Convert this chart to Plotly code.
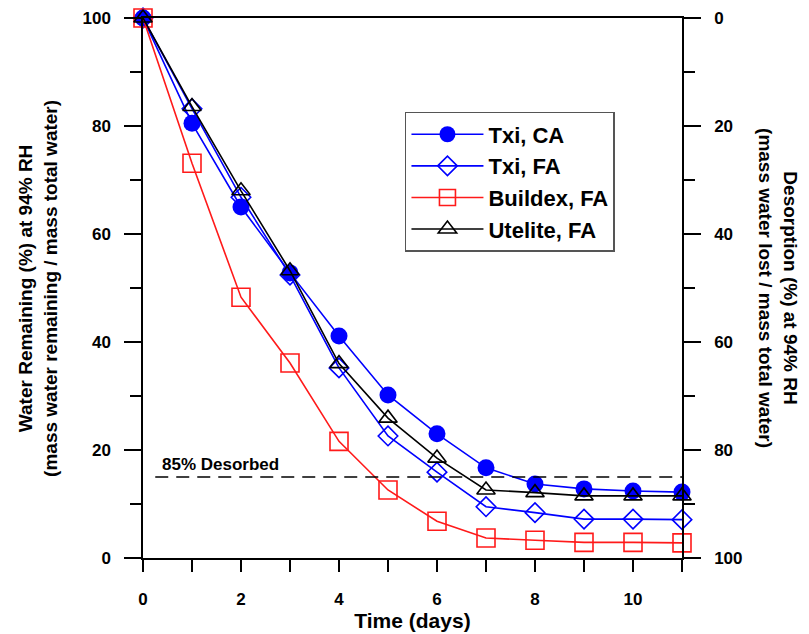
import plotly.graph_objects as go

# Water remaining (%) at 94% RH versus drying time
days = [0, 1, 2, 3, 4, 5, 6, 7, 8, 9, 10, 11]
txi_ca = [100, 80.5, 65.0, 52.8, 41.1, 30.2, 23.0, 16.7, 13.7, 12.8, 12.4, 12.2]
txi_fa = [100, 83.2, 66.8, 52.4, 35.2, 22.6, 15.9, 9.5, 8.4, 7.2, 7.2, 7.1]
buildex_fa = [100, 73.1, 48.3, 36.1, 21.6, 12.6, 6.8, 3.7, 3.3, 2.9, 2.9, 2.8]
utelite_fa = [100, 83.6, 68.0, 53.2, 36.0, 25.9, 18.5, 12.6, 12.1, 11.5, 11.5, 11.5]

desorbed_level = 15  # 85% desorbed threshold
x_tick_vals = list(range(0, 12))
x_tick_text = [str(v) if v % 2 == 0 and v <= 10 else "" for v in x_tick_vals]

FONT = "Liberation Sans, Arial, sans-serif"
BLUE = "#0000FF"
RED = "#FF1A1A"
BLACK = "#000000"

series = [
    ("Txi, CA", txi_ca, BLUE, dict(symbol="circle", size=17, color=BLUE)),
    ("Txi, FA", txi_fa, BLUE, dict(symbol="diamond-open", size=15, color=BLUE,
                                  line=dict(width=1.6, color=BLUE))),
    ("Buildex, FA", buildex_fa, RED, dict(symbol="square-open", size=18, color=RED,
                                          line=dict(width=1.6, color=RED))),
    ("Utelite, FA", utelite_fa, BLACK, dict(symbol="triangle-up-open", size=16, color=BLACK,
                                            line=dict(width=1.6, color=BLACK))),
]

fig = go.Figure()
for i, (name, vals, col, mk) in enumerate(series):
    fig.add_trace(go.Scatter(
        x=days, y=vals, name=name, mode="lines+markers",
        line=dict(color=col, width=1.6), marker=mk,
        cliponaxis=False, legendgroup=f"g{i}",
    ))

# desorption scale on the right: desorbed % = 100 - remaining %
fig.add_trace(go.Scatter(
    x=days, y=[100 - v for v in txi_ca], yaxis="y2", mode="lines",
    line=dict(width=0, color="rgba(0,0,0,0)"), showlegend=False, hoverinfo="skip",
))

# 85% desorbed reference line
fig.add_shape(type="line", xref="x", yref="y", x0=0.25, x1=11,
              y0=desorbed_level, y1=desorbed_level,
              line=dict(color=BLACK, width=1.3, dash="13px,8px"))
fig.add_annotation(x=0.35, y=desorbed_level, xref="x", yref="y",
                   text="85% Desorbed", showarrow=False, xanchor="left",
                   yanchor="bottom", yshift=1,
                   font=dict(family=FONT, size=17, color=BLACK, weight="bold"))

tick_font = dict(family=FONT, size=17, color=BLACK, weight="bold")

fig.update_layout(
    width=809, height=634,
    margin=dict(l=143, r=127, t=18, b=76),
    paper_bgcolor="white", plot_bgcolor="white",
    showlegend=True,
    legend=dict(
        x=0.486, y=0.826, xanchor="left", yanchor="top",
        bgcolor="white", bordercolor="#555555", borderwidth=1.5,
        font=dict(family=FONT, size=22, color=BLACK, weight="bold"),
        tracegroupgap=0, itemwidth=72,
    ),
    xaxis=dict(
        range=[0, 11], tickmode="array", tickvals=x_tick_vals, ticktext=x_tick_text,
        ticks="outside", ticklen=12, tickwidth=1.5, tickcolor=BLACK,
        showline=True, linecolor=BLACK, linewidth=1.5, mirror=True, automargin=False,
        showgrid=False, zeroline=False, tickfont=tick_font, ticklabelstandoff=13,
        title=dict(text="Time (days)", font=dict(family=FONT, size=21, color=BLACK, weight="bold"),
                   standoff=0),
    ),
    yaxis=dict(
        range=[0, 100], dtick=20, ticks="outside", ticklen=17, tickwidth=1.5,
        tickcolor=BLACK, showline=True, linecolor=BLACK, linewidth=1.5, automargin=False,
        showgrid=False, zeroline=False, tickfont=tick_font, ticklabelstandoff=10,
        minor=dict(dtick=10, ticks="outside", ticklen=11, tickwidth=1.5, tickcolor=BLACK,
                   showgrid=False),
    ),
    yaxis2=dict(
        range=[100, 0], overlaying="y", side="right", dtick=20, ticks="outside",
        ticklen=17, tickwidth=1.5, tickcolor=BLACK, showline=True, linecolor=BLACK,
        linewidth=1.5, showgrid=False, zeroline=False, tickfont=tick_font,
        ticklabelstandoff=10, automargin=False,
        minor=dict(dtick=10, ticks="outside", ticklen=11, tickwidth=1.5, tickcolor=BLACK,
                   showgrid=False),
    ),
)

title_font = dict(family=FONT, size=19, color=BLACK, weight="bold")
fig.add_annotation(
    xref="paper", yref="paper", x=-0.195, y=0.5, xanchor="center", yanchor="middle",
    text="Water Remaining (%) at 94% RH<br>(mass water remaining / mass total water)",
    textangle=-90, showarrow=False, font=title_font,
)
fig.add_annotation(
    xref="paper", yref="paper", x=1.178, y=0.5, xanchor="center", yanchor="middle",
    text="Desorption (%) at 94% RH<br>(mass water lost / mass total water)",
    textangle=90, showarrow=False, font=title_font,
)

fig.write_html("out.html")
